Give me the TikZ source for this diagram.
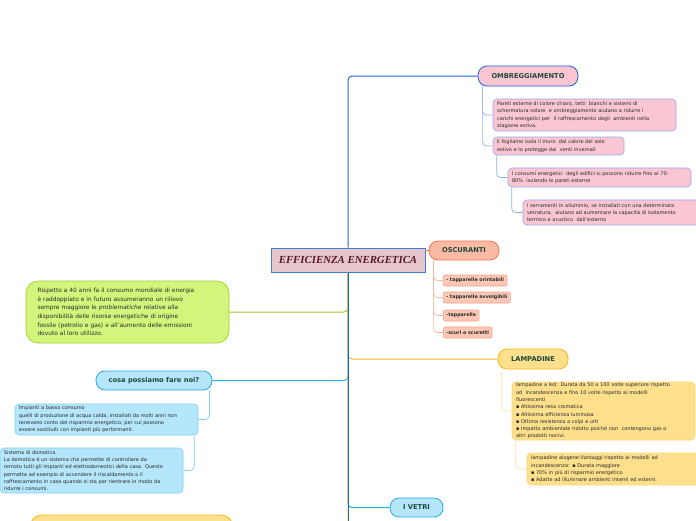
\documentclass[tikz,border=0pt]{standalone}
\usepackage{fontspec}
\setmainfont{DejaVu Sans}
\newfontfamily\titlefont{Liberation Serif}

\definecolor{trunk}{HTML}{2063D4}
\definecolor{headtext}{HTML}{1F4A3A}
\definecolor{bodytext}{HTML}{2A2A2A}
\definecolor{titletext}{HTML}{5A1428}
\definecolor{mainfill}{HTML}{E6C6CD}
\definecolor{maindraw}{HTML}{3D7FCB}
\definecolor{pinkfill}{HTML}{F9C6D2}
\definecolor{pinkdraw}{HTML}{9AA8EE}
\definecolor{pinkline}{HTML}{8FB0E8}
\definecolor{salmonfill}{HTML}{FBBAA3}
\definecolor{salmondraw}{HTML}{F2784E}
\definecolor{salmonsoft}{HTML}{F4A085}
\definecolor{salmonline}{HTML}{F7B8A0}
\definecolor{greenfill}{HTML}{D4F57C}
\definecolor{greendraw}{HTML}{9CCB2C}
\definecolor{bluefill}{HTML}{B5E6FB}
\definecolor{bluedraw}{HTML}{29A9E6}
\definecolor{bluesoft}{HTML}{7FD0F5}
\definecolor{yellowfill}{HTML}{FDDF8C}
\definecolor{yellowdraw}{HTML}{F5B81E}
\definecolor{yellowsoft}{HTML}{FBD778}
\definecolor{yellowline}{HTML}{FDE2A0}

\begin{document}
\begin{tikzpicture}[x=1pt,y=-1pt,
    pill/.style={draw,line width=0.8pt,rounded corners=9pt,inner sep=0pt,
      font=\fontsize{6.7}{8}\selectfont\bfseries,text=headtext},
    note/.style={draw,line width=0.6pt,rounded corners=4pt,inner xsep=4pt,
      inner ysep=0pt,align=left,font=\fontsize{5}{7.3}\selectfont,text=bodytext},
    tag/.style={draw,line width=0.6pt,rounded corners=2pt,inner xsep=3pt,
      inner ysep=0pt,minimum height=11pt,font=\fontsize{4.8}{6}\selectfont\bfseries,
      text=bodytext,fill=salmonfill!80,draw=salmonsoft},
    link/.style={line width=1pt,rounded corners=4pt}]

  \useasboundingbox (0,0) rectangle (696,520);
  \clip (0,0) rectangle (696,520);

  % centre
  \node[draw=maindraw,fill=mainfill,line width=0.6pt,minimum width=154pt,
    minimum height=24pt,inner sep=0pt,text=titletext,
    font=\titlefont\fontsize{10.8}{12}\selectfont\bfseries\itshape] (main) at (348,260)
    {EFFICIENZA ENERGETICA};

  % ombreggiamento
  \node[pill,draw=trunk,fill=pinkfill,minimum width=100pt,minimum height=20pt] (omb) at (528,76) {OMBREGGIAMENTO};
  \begin{scope}[every node/.style={note,fill=pinkfill,draw=pinkdraw}]
    \node[text width=175pt,minimum height=32pt] (omb1) at (584.5,115)
      {Pareti esterne di colore chiaro, tetti\ \ bianchi e sistemi di\\
       schermatura solare\ \ e ombreggiamento aiutano a ridurre i\\
       carichi energetici per\ \ il raffrescamento degli\ \ ambienti nella\\
       stagione estiva.};
    \node[text width=123pt,minimum height=18pt] (omb2) at (558.5,146)
      {Il fogliame isola il muro\ \ dal calore del sole\\
       estivo e lo protegge dai\ \ venti invernali};
    \node[text width=175pt,minimum height=19pt] (omb3) at (599.5,177.5)
      {I consumi energetici\ \ degli edifici si possono ridurre fino al 70-\\
       80\%\ \ isolando le pareti esterne};
    \node[text width=175pt,minimum height=25pt] (omb4) at (614.5,212.5)
      {i serramenti in alluminio, se installati con una determinata\\
       vetratura,\ \ aiutano ad aumentare la capacità di isolamento\\
       termico e acustico\ \ dall'esterno};
  \end{scope}

  % oscuranti
  \node[pill,draw=salmondraw,fill=salmonfill,minimum width=70pt,minimum height=19pt] (osc) at (464,250.5) {OSCURANTI};
  \begin{scope}[every node/.style={tag,anchor=west}]
    \node (osc1) at (443,280.5) {- tapparelle orintabili};
    \node (osc2) at (443,297.5) {- tapparelle avvolgibili};
    \node (osc3) at (443,315.5) {-tapparelle};
    \node (osc4) at (443,332.5) {-scuri o scuretti};
  \end{scope}

  % intro
  \node[note,fill=greenfill,draw=greendraw,rounded corners=12pt,text width=180pt,
    inner xsep=11.5pt,minimum height=62pt,font=\fontsize{5.9}{8.6}\selectfont] (intro) at (127.5,312)
    {Rispetto a 40 anni fa il consumo mondiale di energia\\
     è raddoppiato e in futuro assumeranno un rilievo\\
     sempre maggiore le \textit{problematiche} relative alla\\
     disponibilità delle risorse energetiche di origine\\
     fossile (petrolio e gas) e all'aumento delle emissioni\\
     dovuto al loro utilizzo.};

  % cosa possiamo fare
  \node[pill,draw=bluedraw,fill=bluefill,minimum width=116pt,minimum height=19pt] (cosa) at (154,380.5) {cosa possiamo fare noi?};
  \begin{scope}[every node/.style={note,fill=bluefill,draw=bluesoft}]
    \node[text width=175pt,minimum height=31pt] (cosa1) at (106.5,419.5)
      {Impianti a basso consumo\\
       quelli di produzione di acqua calda, installati da molti anni non\\
       tenevano conto del risparmio energetico, per cui possono\\
       essere sostituiti con impianti più performanti.};
    \node[text width=175pt,minimum height=45pt] (cosa2) at (91.5,470.5)
      {Sistema di domotica\\
       La domotica è un sistema che permette di controllare da\\
       remoto tutti gli impianti ed elettrodomestici della casa. Questo\\
       permette ad esempio di accendere il riscaldamento o il\\
       raffrescamento in casa quando si sta per rientrare in modo da\\
       ridurre i consumi.};
  \end{scope}

  % lampadine
  \node[pill,draw=yellowdraw,fill=yellowfill,minimum width=70pt,minimum height=20pt] (lamp) at (533,359) {LAMPADINE};
  \begin{scope}[every node/.style={note,fill=yellowfill,draw=yellowsoft}]
    \node[text width=175pt,minimum height=58pt] (lamp1) at (603.5,411)
      {lampadine a led: Durata da 50 a 100 volte superiore rispetto\\
       ad\ \ incandescenza e fino 10 volte rispetto ai modelli\\
       fluorescenti\\
       ▪ Altissima resa cromatica\\
       ▪ Altissima efficienza luminosa\\
       ▪ Ottima resistenza a colpi e urti\\
       ▪ Impatto ambientale ridotto poiché non\ \ contengono gas o\\
       altri prodotti nocivi.};
    \node[text width=175pt,minimum height=32pt] (lamp2) at (618.5,469)
      {lampadine alogene:Vantaggi rispetto ai modelli ad\\
       incandescenza: ▪ Durata maggiore\\
       ▪ 70\% in più di risparmio energetico\\
       ▪ Adatte ad illuminare ambienti interni ed esterni.};
  \end{scope}

  % vetri
  \node[pill,draw=bluedraw,fill=bluefill,minimum width=53pt,minimum height=19pt] (vetri) at (416.5,507.5) {I VETRI};

  % partly hidden box at the bottom
  \node[draw=yellowdraw,fill=yellowfill,line width=0.8pt,rounded corners=12pt,
    minimum width=203pt,minimum height=60pt] (more) at (131.5,545) {};

  % branches from the centre
  \draw[link,bluedraw] (main.south) |- (cosa.east);
  \draw[link,greendraw] (main.south) |- (intro.east);
  \draw[link,yellowdraw] (main.south) |- (lamp.west);
  \draw[link,bluedraw] (main.south) |- (vetri.west);
  \draw[link,yellowdraw] (main.south) |- (more.east);
  \draw[link,salmondraw] (main.east |- osc.west) -- (osc.west);
  \draw[link,trunk] (main.north) |- (omb.west);
  \draw[link,trunk] (main.south) -- (main.south |- more.east);

  % sub branches
  \begin{scope}[every path/.style={link,line width=0.7pt,draw=pinkline}]
    \draw ([xshift=5]omb.south west) |- (omb1.west);
    \draw ([xshift=5]omb.south west) |- (omb2.west);
    \draw ([xshift=4]omb2.south west) |- (omb3.west);
    \draw ([xshift=4]omb3.south west) |- (omb4.west);
  \end{scope}
  \begin{scope}[every path/.style={link,line width=0.7pt,draw=salmonline}]
    \foreach \s in {osc1,osc2,osc3,osc4}
      \draw ([xshift=5]osc.south west) |- (\s.west);
  \end{scope}
  \begin{scope}[every path/.style={link,line width=0.7pt,draw=bluesoft}]
    \draw ([xshift=-3]cosa.south east) |- (cosa1.east);
    \draw ([xshift=-4]cosa1.south east) |- (cosa2.east);
  \end{scope}
  \begin{scope}[every path/.style={link,line width=0.7pt,draw=yellowline}]
    \draw ([xshift=4]lamp.south west) |- (lamp1.west);
    \draw ([xshift=4]lamp1.south west) |- (lamp2.west);
  \end{scope}
\end{tikzpicture}
\end{document}
